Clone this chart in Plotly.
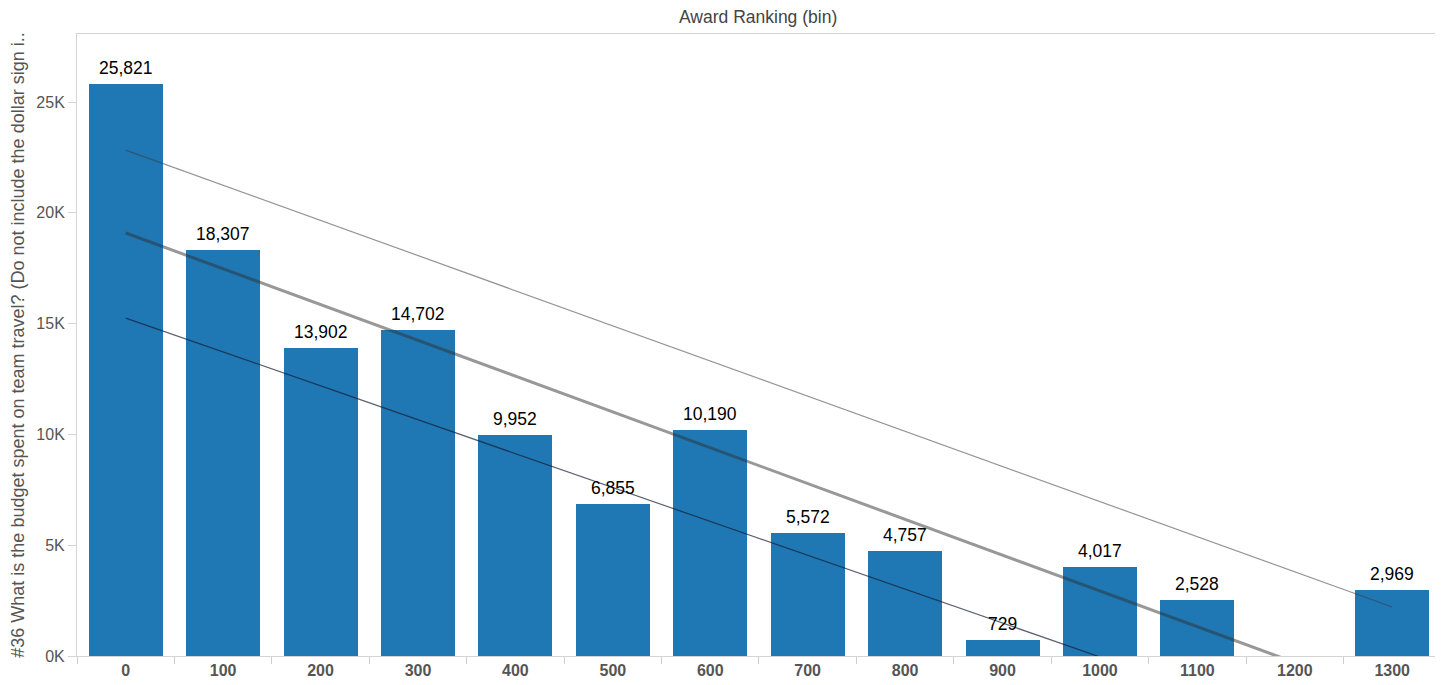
import plotly.graph_objects as go

# bins of award ranking and the summed travel budget per bin
bins = [0, 100, 200, 300, 400, 500, 600, 700, 800, 900, 1000, 1100, 1300]
budget = [25821, 18307, 13902, 14702, 9952, 6855, 10190, 5572, 4757, 729, 4017, 2528, 2969]

trend_x = [0, 1300]
trend_y = [19090, -1910]
upper_y = [22830, 2210]
lower_y = [15250, -4630]

y_ticks = [0, 5000, 10000, 15000, 20000, 25000]
y_labels = ['0K', '5K', '10K', '15K', '20K', '25K']
x_ticks = list(range(0, 1400, 100))

font = 'Arial, Liberation Sans, sans-serif'

fig = go.Figure()
fig.add_trace(go.Bar(x=bins, y=budget, width=76, marker=dict(color='#1f77b4', line_width=0),
                     showlegend=False))
fig.add_trace(go.Scatter(x=trend_x, y=upper_y, mode='lines',
                         line=dict(color='rgba(60,60,60,0.55)', width=1.2), showlegend=False))
fig.add_trace(go.Scatter(x=trend_x, y=lower_y, mode='lines',
                         line=dict(color='rgba(20,30,50,0.7)', width=1.2), showlegend=False))
fig.add_trace(go.Scatter(x=trend_x, y=trend_y, mode='lines',
                         line=dict(color='rgba(50,50,50,0.5)', width=3), showlegend=False))

# value labels above bars
for b, v in zip(bins, budget):
    fig.add_annotation(x=b, y=v, text=f'{v:,}', showarrow=False, yanchor='bottom', yshift=4,
                       font=dict(size=17.5, color='black', family=font))

# page body has an 8px margin, so the figure is shrunk by that much
fig.update_layout(
    width=1435, height=677,
    margin=dict(l=69, r=5, t=26, b=29),
    plot_bgcolor='white', paper_bgcolor='white',
    font=dict(family=font, color='#555'),
    bargap=0,
)
fig.update_xaxes(range=[-50, 1347], tickvals=x_ticks, ticktext=[f'<b>{v}</b>' for v in x_ticks],
                 ticks='', tickfont=dict(size=16, color='#555'), automargin=False,
                 showline=True, linecolor='#d4d4d4', linewidth=1, mirror=True,
                 showgrid=False, zeroline=False,
                 minor=dict(tick0=-50, dtick=100, ticks='outside', ticklen=7,
                            tickcolor='#cfcfcf', showgrid=False))
fig.update_yaxes(range=[0, 28070], tickvals=y_ticks, ticktext=y_labels,
                 ticks='outside', ticklen=8, tickcolor='#d4d4d4',
                 tickfont=dict(size=16, color='#555'), automargin=False,
                 showline=True, linecolor='#d4d4d4', linewidth=1, mirror=True,
                 showgrid=False, zeroline=False,
                 title=dict(text='#36 What is the budget spent on team travel? (Do not include the dollar sign i..',
                            font=dict(size=18, color='#555'), standoff=14))
fig.add_annotation(text='Award Ranking (bin)', x=0.5, y=1, xref='paper', yref='paper',
                   yanchor='bottom', yshift=5, showarrow=False,
                   font=dict(size=17.5, color='#444'))

fig.write_html('out.html')
